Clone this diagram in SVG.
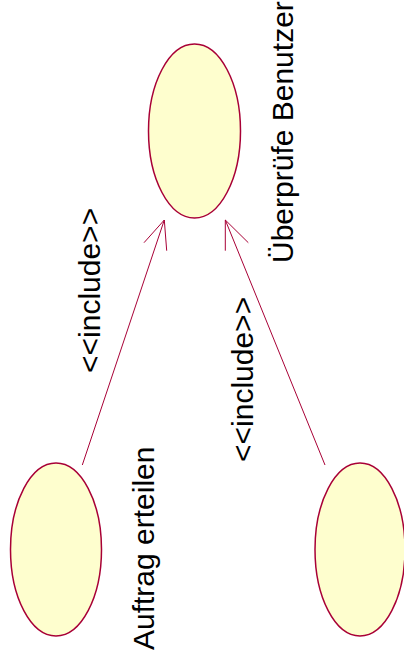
<svg xmlns="http://www.w3.org/2000/svg" width="404" height="667" viewBox="0 0 404 667">
<style>
.uc{fill:#FEFECE;stroke:#A80036;stroke-width:1.5}
.lbl{font-family:"Liberation Sans",Arial,sans-serif;font-size:30px;fill:#000}
.edge{fill:none;stroke:#A80036;stroke-width:1}
</style>
<rect width="404" height="667" fill="#fff"/>
<g id="ueberpruefe">
<ellipse class="uc" cx="194.5" cy="131" rx="46" ry="87"/>
<text class="lbl" transform="translate(293,263) rotate(-90)">Überprüfe Benutzer</text>
</g>
<g id="auftrag">
<ellipse class="uc" cx="56" cy="549.5" rx="45.5" ry="86.5"/>
<text class="lbl" transform="translate(154,650) rotate(-90)">Auftrag erteilen</text>
</g>
<g id="third">
<ellipse class="uc" cx="360" cy="549.5" rx="45" ry="86.5"/>
</g>
<g id="connectors">
<path class="edge" d="M82.3,465 L164.3,220 M144,242.7 L164.3,220 L166.7,250.7"/>
<path class="edge" d="M325,465 L225.3,220 M248.3,242.7 L225.3,220 L225.3,250.7"/>
<text class="lbl" transform="translate(100,373) rotate(-90)">&lt;&lt;include&gt;&gt;</text>
<text class="lbl" transform="translate(253,462) rotate(-90)">&lt;&lt;include&gt;&gt;</text>
</g>
</svg>
